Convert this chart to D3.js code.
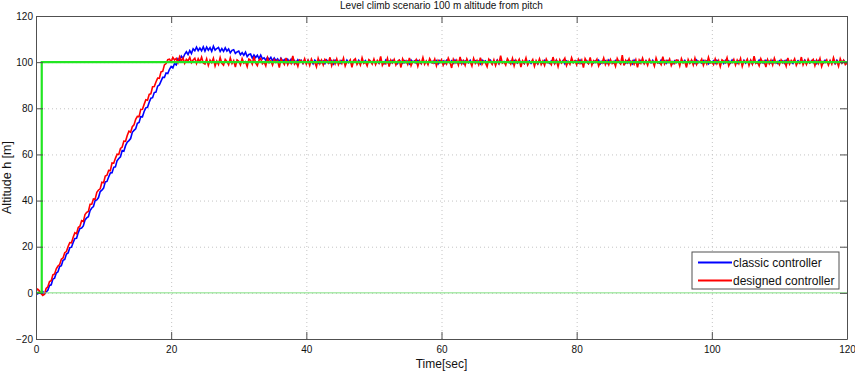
<!DOCTYPE html>
<html>
<head>
<meta charset="utf-8">
<script src="https://cdn.jsdelivr.net/npm/d3@7"></script>
<style>
    html, body { margin: 0; padding: 0; background: #fff; }
    svg { display: block; font-family: "Liberation Sans", Arial, Helvetica, sans-serif; }
</style>
</head>
<body>
<svg id="chart" width="855" height="372"></svg>
<script>
// ============================================================================
// Level climb scenario - altitude response of two pitch controllers
// ============================================================================

const SAMPLE_STEP = 0.25; // seconds between samples

// classic controller altitude [m], one row = 5 s
const classicAltitude = [
    0.3, -0.4, 0.5, -0.2, 0.6, -0.5, 0.4, 1.1, 3.2, 3.5, 6.0, 6.4, 8.6, 9.1, 11.4, 11.8, 14.1, 14.5, 16.8, 17.3,
    19.6, 19.8, 21.8, 23.6, 23.7, 26.1, 27.9, 28.1, 29.0, 31.6, 32.5, 33.0, 35.7, 36.8, 37.4, 40.0, 40.3, 41.3, 43.9, 44.5,
    45.4, 48.1, 48.3, 50.2, 52.0, 52.1, 54.4, 54.6, 57.3, 58.2, 59.0, 61.7, 61.4, 63.8, 65.3, 66.0, 66.9, 69.6, 70.4, 71.1,
    73.5, 73.9, 76.4, 76.3, 78.6, 80.2, 80.4, 82.6, 84.4, 84.6, 86.8, 87.0, 89.6, 90.1, 91.8, 93.4, 93.4, 95.3, 95.1, 96.9,
    98.1, 97.5, 99.4, 98.8, 101.5, 100.8, 102.6, 101.7, 103.4, 104.5, 103.3, 105.0, 103.7, 105.8, 104.9, 106.5, 105.0, 106.1, 104.9, 106.6,
    104.8, 106.5, 105.2, 106.3, 104.7, 106.9, 105.2, 105.9, 106.4, 104.6, 105.9, 104.7, 106.2, 104.8, 105.7, 104.0, 105.1, 105.4, 103.8, 104.4,
    104.8, 103.2, 104.1, 103.0, 104.3, 102.4, 103.3, 103.5, 101.8, 103.1, 102.0, 103.0, 101.5, 103.0, 101.4, 101.9, 100.8, 102.1, 101.1, 102.1,
    100.6, 101.8, 100.6, 101.4, 100.1, 101.7, 100.4, 101.1, 99.9, 101.2, 100.0, 101.3, 99.8, 100.7, 99.5, 101.0, 100.1, 100.8, 99.5, 100.8,
    99.6, 100.8, 99.9, 100.4, 99.3, 100.9, 100.1, 99.5, 100.7, 99.8, 100.5, 99.4, 100.9, 100.0, 99.6, 100.6, 99.2, 100.8, 99.9, 100.3,
    99.5, 100.7, 100.2, 99.4, 100.9, 99.8, 100.4, 99.3, 100.6, 100.0, 99.7, 100.8, 99.5, 100.3, 99.9, 100.7, 99.4, 100.5, 100.1, 99.6,
    100.8, 99.7, 100.3, 99.5, 100.6, 100.0, 99.3, 100.9, 99.8, 100.4, 99.6, 100.7, 99.9, 100.2, 99.4, 100.8, 100.1, 99.5, 100.6, 99.8,
    100.4, 99.3, 100.9, 99.9, 100.5, 99.6, 100.7, 100.0, 99.4, 100.8, 99.7, 100.3, 99.5, 100.9, 99.8, 100.4, 99.6, 100.6, 99.3, 100.7,
    99.9, 100.5, 99.4, 100.8, 100.1, 99.7, 100.6, 99.5, 100.9, 99.8, 100.3, 99.6, 100.7, 99.4, 100.5, 100.0, 99.7, 100.8, 99.5, 100.2,
    100.6, 99.8, 100.4, 99.3, 100.9, 99.9, 100.5, 99.6, 100.2, 100.8, 99.5, 100.4, 99.7, 100.9, 99.4, 100.6, 99.9, 100.3, 99.6, 100.7,
    99.8, 100.4, 99.5, 100.7, 100.0, 99.6, 100.9, 99.7, 100.3, 99.4, 100.8, 99.9, 100.5, 99.5, 100.6, 99.8, 100.2, 99.3, 100.7, 100.1,
    99.6, 100.8, 99.9, 100.3, 99.5, 100.6, 100.1, 99.4, 100.9, 99.7, 100.4, 99.8, 100.7, 99.3, 100.5, 100.0, 99.6, 100.8, 99.9, 100.4,
    100.5, 99.7, 100.9, 99.5, 100.2, 99.8, 100.6, 99.4, 100.7, 100.0, 99.6, 100.5, 99.9, 100.8, 99.3, 100.4, 99.7, 100.6, 99.5, 100.9,
    99.8, 100.3, 99.6, 100.7, 99.9, 100.5, 99.4, 100.8, 100.1, 99.5, 100.6, 99.7, 100.4, 99.3, 100.9, 99.8, 100.2, 99.6, 100.7, 100.0,
    99.5, 100.6, 99.9, 100.4, 99.7, 100.8, 99.4, 100.3, 100.0, 99.6, 100.9, 99.8, 100.5, 99.5, 100.7, 99.9, 100.3, 99.4, 100.6, 99.8,
    100.7, 99.6, 100.2, 99.9, 100.8, 99.5, 100.4, 99.7, 100.6, 100.1, 99.4, 100.9, 99.8, 100.3, 99.6, 100.7, 99.9, 100.5, 99.3, 100.4,
    99.9, 100.6, 99.5, 100.8, 100.0, 99.7, 100.4, 99.4, 100.7, 99.8, 100.5, 99.6, 100.9, 99.9, 100.2, 99.5, 100.6, 100.1, 99.7, 100.8,
    99.6, 100.4, 99.8, 100.7, 99.3, 100.5, 100.0, 99.6, 100.9, 99.7, 100.3, 99.5, 100.8, 99.9, 100.4, 99.6, 100.7, 99.8, 100.2, 99.4,
    100.6, 99.9, 100.5, 99.5, 100.8, 99.7, 100.3, 100.0, 99.4, 100.7, 99.8, 100.6, 99.6, 100.4, 99.9, 100.9, 99.5, 100.3, 99.7, 100.6,
    99.8, 100.5, 99.4, 100.7, 99.9, 100.3, 99.6, 100.8, 100.0, 99.5, 100.6, 99.7, 100.4, 99.3, 100.8, 99.9, 100.5, 99.6, 100.7, 100.0,
    100.1
];

// designed controller altitude [m], one row = 5 s
const designedAltitude = [
    0.8, 1.6, 0.9, -0.3, -1.1, -0.6, 1.9, 2.6, 4.9, 5.3, 7.8, 8.2, 10.4, 11.6, 12.3, 14.6, 15.1, 17.4, 17.9, 20.1,
    21.8, 21.7, 24.1, 26.1, 25.6, 28.3, 28.9, 31.3, 30.9, 33.9, 34.9, 35.3, 38.4, 38.4, 40.7, 40.6, 43.6, 44.6, 45.1, 47.9,
    47.7, 50.6, 51.0, 53.1, 53.0, 56.3, 56.2, 58.3, 60.1, 60.0, 62.6, 63.2, 65.8, 65.7, 68.2, 70.1, 69.6, 72.0, 72.8, 75.2,
    76.5, 76.4, 79.5, 79.6, 81.7, 83.7, 83.5, 86.0, 86.3, 89.3, 89.4, 91.4, 93.1, 93.0, 95.8, 96.0, 98.8, 99.4, 101.1, 101.3,
    100.2, 102.0, 100.9, 101.6, 99.7, 102.3, 100.4, 101.8, 99.5, 101.2, 100.6, 102.1, 99.8, 100.9, 101.7, 99.4, 101.5, 100.1, 102.2, 99.6,
    99.2, 101.4, 98.6, 100.9, 99.8, 101.7, 98.3, 100.5, 99.0, 102.0, 99.5, 98.7, 101.2, 100.3, 98.9, 101.8, 99.4, 100.7, 97.9, 101.0,
    100.4, 98.8, 101.5, 99.6, 100.2, 98.1, 101.3, 100.8, 99.1, 102.4, 99.7, 98.5, 100.9, 101.6, 99.3, 100.1, 98.4, 101.9, 99.8, 100.6,
    98.7, 101.1, 99.9, 100.7, 97.6, 101.4, 100.2, 99.0, 101.8, 98.9, 100.5, 99.4, 102.7, 99.2, 100.3, 98.2, 101.0, 100.6, 99.5, 101.5,
    99.1, 100.8, 98.6, 101.3, 99.7, 100.0, 98.0, 101.6, 99.3, 100.9, 98.8, 101.2, 100.4, 99.6, 102.1, 98.5, 100.7, 99.2, 101.4, 98.9,
    100.6, 99.4, 101.7, 98.3, 100.2, 99.9, 101.0, 97.8, 100.8, 101.5, 99.0, 100.3, 98.7, 101.9, 99.5, 100.1, 98.4, 101.1, 100.5, 99.2,
    101.3, 98.9, 100.7, 99.6, 102.5, 98.6, 100.0, 99.3, 101.6, 98.1, 100.9, 99.7, 101.2, 98.8, 100.4, 100.9, 97.7, 101.4, 99.8, 100.6,
    99.0, 101.8, 98.5, 100.3, 99.9, 101.1, 98.2, 100.7, 99.4, 102.0, 99.1, 100.5, 98.9, 101.5, 100.1, 99.5, 101.3, 98.4, 100.8, 99.7,
    101.0, 98.7, 100.4, 99.2, 101.7, 100.0, 97.5, 101.2, 99.6, 100.9, 98.8, 102.3, 99.3, 100.6, 98.6, 101.4, 99.8, 100.2, 98.3, 101.6,
    99.5, 100.8, 98.9, 101.9, 99.1, 100.5, 99.7, 98.0, 101.3, 100.2, 99.0, 101.0, 98.5, 100.7, 99.4, 102.8, 99.6, 100.1, 98.7, 101.5,
    100.3, 99.2, 101.6, 98.4, 100.9, 99.8, 101.2, 97.9, 100.6, 99.5, 101.8, 98.8, 100.2, 99.9, 101.1, 98.2, 100.7, 99.3, 101.4, 99.0,
    100.5, 98.6, 101.3, 99.7, 100.0, 98.9, 102.2, 99.4, 100.8, 98.1, 101.0, 99.6, 100.4, 101.7, 98.5, 100.3, 99.1, 101.9, 99.8, 100.6,
    98.8, 101.2, 99.5, 100.9, 97.6, 101.5, 100.1, 99.3, 102.0, 98.7, 100.6, 99.9, 101.3, 98.4, 100.2, 99.6, 101.8, 99.0, 100.7, 98.9,
    101.1, 99.4, 100.3, 98.2, 101.6, 100.0, 99.2, 103.0, 98.6, 100.8, 99.7, 101.4, 98.9, 100.5, 99.1, 101.0, 97.8, 100.9, 99.5, 101.7,
    99.3, 100.6, 98.7, 101.2, 99.9, 100.4, 98.3, 101.8, 99.6, 100.1, 98.9, 102.4, 99.2, 100.7, 99.8, 101.3, 98.5, 100.2, 99.4, 101.0,
    100.8, 98.4, 101.5, 99.7, 100.3, 97.7, 101.1, 99.5, 100.9, 98.8, 101.7, 99.0, 100.4, 99.9, 101.3, 98.6, 100.6, 99.2, 102.1, 99.6,
    100.0, 98.9, 101.4, 99.3, 100.7, 98.1, 101.0, 100.4, 99.7, 101.9, 98.5, 100.2, 99.8, 101.2, 98.7, 100.9, 99.4, 101.6, 98.2, 100.5,
    99.9, 101.3, 98.6, 100.8, 99.1, 102.6, 99.5, 100.1, 98.4, 101.5, 99.8, 100.6, 97.9, 101.1, 99.3, 100.9, 98.8, 101.7, 99.6, 100.3,
    98.9, 101.0, 99.7, 100.5, 98.3, 101.8, 99.2, 100.7, 99.9, 101.4, 98.6, 100.2, 99.5, 102.2, 98.8, 100.6, 99.0, 101.3, 99.7, 100.4,
    101.2, 98.5, 100.9, 99.4, 101.6, 98.1, 100.3, 99.8, 101.0, 98.7, 100.7, 99.1, 101.9, 99.5, 100.4, 98.2, 101.5, 99.6, 100.8, 98.9,
    99.6
];

// reference (commanded) altitude step
const referenceTime = [0, 0.85, 0.85, 120];
const referenceAltitude = [0, 0, 100, 100];

// zero level line
const zeroTime = [0, 120];
const zeroAltitude = [0, 0];

const xTicks = [0, 20, 40, 60, 80, 100, 120];
const yTicks = [-20, 0, 20, 40, 60, 80, 100, 120];

const legendLabels = ["classic controller", "designed controller"];
const legendColors = ["#0000ff", "#ff0000"];

// ----------------------------------------------------------------------------

const svg = d3.select("#chart");
const plot = { left: 36, right: 847, top: 16, bottom: 339 };

const x = d3.scaleLinear().domain([0, 120]).range([plot.left, plot.right]);
const y = d3.scaleLinear().domain([-20, 120]).range([plot.bottom, plot.top]);

const axisColor = "#505050";
const gridColor = "#c4c4c4";

svg.append("defs").append("clipPath")
    .attr("id", "plot-clip")
    .append("rect")
    .attr("x", plot.left)
    .attr("y", plot.top)
    .attr("width", plot.right - plot.left)
    .attr("height", plot.bottom - plot.top);

// Grid (dotted)
svg.append("g")
    .attr("transform", `translate(0,${plot.bottom})`)
    .call(d3.axisBottom(x).tickValues(xTicks).tickSize(-(plot.bottom - plot.top)).tickFormat(""))
    .call(g => g.select(".domain").remove())
    .selectAll("line")
    .attr("stroke", gridColor)
    .attr("stroke-dasharray", "1,3");

svg.append("g")
    .attr("transform", `translate(${plot.left},0)`)
    .call(d3.axisLeft(y).tickValues(yTicks).tickSize(-(plot.right - plot.left)).tickFormat(""))
    .call(g => g.select(".domain").remove())
    .selectAll("line")
    .attr("stroke", gridColor)
    .attr("stroke-dasharray", "1,3");

// Data lines
const toPoints = (values) => values.map((v, i) => [i * SAMPLE_STEP, v]);
const line = d3.line()
    .x(d => x(d[0]))
    .y(d => y(d[1]));

const lines = svg.append("g").attr("clip-path", "url(#plot-clip)");

lines.append("path")
    .datum(toPoints(classicAltitude))
    .attr("fill", "none")
    .attr("stroke", legendColors[0])
    .attr("stroke-width", 1.6)
    .attr("d", line);

lines.append("path")
    .datum(toPoints(designedAltitude))
    .attr("fill", "none")
    .attr("stroke", legendColors[1])
    .attr("stroke-width", 1.6)
    .attr("d", line);

lines.append("path")
    .datum(zeroTime.map((t, i) => [t, zeroAltitude[i]]))
    .attr("fill", "none")
    .attr("stroke", "#80e080")
    .attr("stroke-width", 1)
    .attr("d", line);

lines.append("path")
    .datum(referenceTime.map((t, i) => [t, referenceAltitude[i]]))
    .attr("fill", "none")
    .attr("stroke", "#22e622")
    .attr("stroke-width", 2.2)
    .attr("d", line);

// Axes (box with inward ticks)
const styleAxis = g => {
    g.select(".domain").attr("stroke", axisColor);
    g.selectAll(".tick line").attr("stroke", axisColor);
    g.selectAll("text")
        .attr("fill", "#111")
        .style("font-size", "10px")
        .style("font-family", "'Liberation Sans', Arial, sans-serif");
};

svg.append("g")
    .attr("transform", `translate(0,${plot.bottom})`)
    .call(d3.axisBottom(x).tickValues(xTicks).tickSizeInner(-7).tickSizeOuter(0).tickPadding(7))
    .call(styleAxis);

svg.append("g")
    .attr("transform", `translate(0,${plot.top})`)
    .call(d3.axisTop(x).tickValues(xTicks).tickSizeInner(-7).tickSizeOuter(0).tickFormat(""))
    .call(styleAxis);

svg.append("g")
    .attr("transform", `translate(${plot.left},0)`)
    .call(d3.axisLeft(y).tickValues(yTicks).tickSizeInner(-7).tickSizeOuter(0).tickPadding(3))
    .call(styleAxis);

svg.append("g")
    .attr("transform", `translate(${plot.right},0)`)
    .call(d3.axisRight(y).tickValues(yTicks).tickSizeInner(-7).tickSizeOuter(0).tickFormat(""))
    .call(styleAxis);

// Titles
svg.append("text")
    .attr("x", (plot.left + plot.right) / 2)
    .attr("y", 8.5)
    .attr("text-anchor", "middle")
    .style("font-size", "10px")
    .attr("fill", "#111")
    .text("Level climb scenario 100 m altitude from pitch");

svg.append("text")
    .attr("x", (plot.left + plot.right) / 2)
    .attr("y", 368)
    .attr("text-anchor", "middle")
    .style("font-size", "12px")
    .attr("fill", "#111")
    .text("Time[sec]");

svg.append("text")
    .attr("transform", `translate(11,${(plot.top + plot.bottom) / 2}) rotate(-90)`)
    .attr("text-anchor", "middle")
    .style("font-size", "12.5px")
    .attr("fill", "#111")
    .text("Altitude h [m]");

// Legend
const legend = svg.append("g").attr("transform", "translate(692,252)");

legend.append("rect")
    .attr("width", 147)
    .attr("height", 37)
    .attr("fill", "#fff")
    .attr("stroke", axisColor)
    .attr("stroke-width", 1);

legendLabels.forEach((label, i) => {
    const row = legend.append("g").attr("transform", `translate(0,${10.5 + i * 18})`);
    row.append("line")
        .attr("x1", 6)
        .attr("x2", 40)
        .attr("stroke", legendColors[i])
        .attr("stroke-width", 2);
    row.append("text")
        .attr("x", 41)
        .attr("y", 4.5)
        .style("font-size", "12px")
        .attr("fill", "#111")
        .text(label);
});
</script>
</body>
</html>
